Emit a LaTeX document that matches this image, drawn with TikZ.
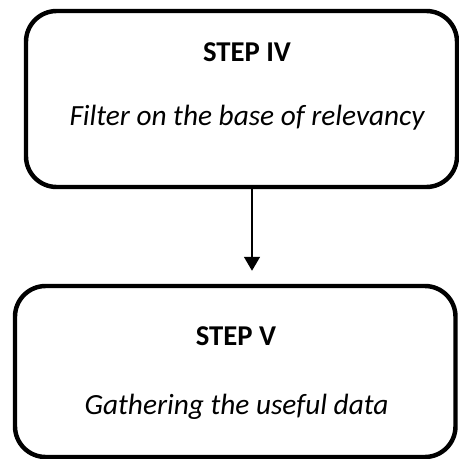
\documentclass[tikz,border=0pt]{standalone}
\usepackage{fontspec}
\setmainfont{Carlito}
\usetikzlibrary{positioning,arrows.meta,calc}

\begin{document}
\begin{tikzpicture}[
    >={Triangle[length=0.42cm, width=0.48cm]},
    arrow/.style={
        ->,
        line width=1.3pt,
        black,
    },
    stepbox/.style={
        rectangle,
        rounded corners=0.92cm,
        draw=black,
        line width=3.8pt,
    },
    steptitle/.style={
        font=\fontsize{24.5}{29}\selectfont\bfseries,
        inner sep=0pt,
    },
    steptext/.style={
        font=\fontsize{25}{30}\selectfont\itshape,
        inner sep=0pt,
    },
]
    \useasboundingbox (0,0) rectangle (13.77,-13.77);

    % === Step IV ===
    \node[stepbox, minimum width=12.93cm, minimum height=5.28cm] (step4) at (7.245,-2.97) {};
    \node[steptitle] (title4) at (7.41,-1.56) {STEP IV};
    \node[steptext]  (text4)  at (7.41,-3.53) {Filter on the base of relevancy};

    % === Step V ===
    \node[stepbox, minimum width=13.215cm, minimum height=5.13cm] (step5) at (7.0575,-11.145) {};
    \node[steptitle] (title5) at (7.08,-10.08) {STEP V};
    \node[steptext]  (text5)  at (7.095,-12.2) {Gathering the useful data};

    % Flow arrow
    \draw[arrow, shorten >=0.39cm] ([xshift=0.315cm]step4.south) -- ([xshift=0.315cm]step4.south |- step5.north);

\end{tikzpicture}
\end{document}
